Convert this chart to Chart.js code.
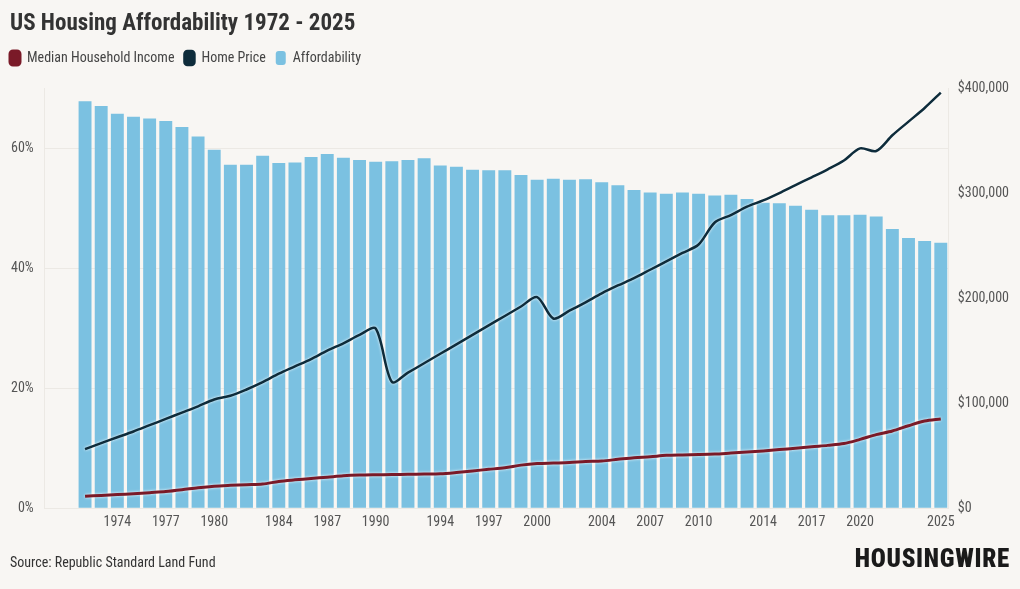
<!DOCTYPE html>
<html>
<head>
<meta charset="utf-8">
<script src="https://cdn.jsdelivr.net/npm/chart.js@4.4.1/dist/chart.umd.min.js"></script>
<style>
  html, body { margin: 0; padding: 0; background: #f8f6f3; }
  #wrap { position: relative; width: 1020px; height: 589px; }
  #title { position: absolute; left: 10px; top: 9px; line-height: 28px; font: bold 23px "Roboto Condensed", "Liberation Sans Narrow", Roboto, sans-serif; color: #333; }
  #source { position: absolute; left: 10px; top: 554px; font: 14px "Roboto Condensed", "Liberation Sans Narrow", Roboto, sans-serif; color: #333; }
  #logo { position: absolute; right: 10px; top: 544px; font: 900 25px "Roboto Condensed", "Liberation Sans Narrow", Roboto, sans-serif; color: #1a1a1a; letter-spacing: 0.7px; }
</style>
</head>
<body>
<div id="wrap">
  <canvas id="chartAfford"></canvas>
  <div id="title">US Housing Affordability 1972 - 2025</div>
  <div id="source">Source: Republic Standard Land Fund</div>
  <div id="logo">HOUSINGWIRE</div>
</div>
<script>
// años del gráfico
const years = [1972,1973,1974,1975,1976,1977,1978,1979,1980,1981,1982,1983,1984,1985,1986,1987,1988,1989,1990,1991,
  1992,1993,1994,1995,1996,1997,1998,1999,2000,2001,2002,2003,2004,2005,2006,2007,2008,2009,2010,2011,
  2012,2013,2014,2015,2016,2017,2018,2019,2020,2021,2022,2023,2024,2025];

// % affordability (barras, eje izquierdo)
const affordability = [67.8,67.0,65.7,65.2,64.9,64.5,63.5,61.9,59.7,57.2,57.2,58.7,57.5,57.6,58.5,59.0,58.4,58.0,57.7,57.8,
  58.0,58.3,57.1,56.9,56.4,56.3,56.3,55.5,54.7,54.9,54.7,54.8,54.3,53.8,53.0,52.6,52.4,52.6,52.4,52.1,
  52.2,51.5,50.9,50.8,50.4,49.7,48.8,48.8,48.9,48.6,46.5,45.0,44.5,44.2];

// ingreso medio del hogar (USD, eje derecho)
const medianIncome = [11400,12200,13000,13800,14800,15800,17500,19500,21000,21800,22400,23000,25500,27000,28300,29500,30800,31500,31800,32000,
  32200,32500,32800,34000,35500,37000,38500,41000,42500,43000,43500,44500,45000,46500,48000,49000,50300,50700,51000,51500,
  52500,53500,54500,55800,57000,58500,59800,61500,65500,70000,73500,78500,83000,85000];

// precio de vivienda (USD, eje derecho)
const homePrice = [56200,62000,67500,73000,79000,85000,91000,97000,103500,107000,113000,120000,128000,135000,142000,150000,157000,165000,171000,120300,
  129000,138000,147000,156000,165000,174000,183000,192000,201000,180600,188000,196000,204500,212000,219000,227000,235000,243000,251000,272000,
  279000,287000,293000,300000,307600,315000,322600,331000,342500,340000,355000,368000,381000,395600];

// etiquetas visibles del eje X
const tickYears = [1974,1977,1980,1984,1987,1990,1994,1997,2000,2004,2007,2010,2014,2017,2020,2025];

const leftTicks = [0, 20, 40, 60];
const rightTicks = [0, 100000, 200000, 300000, 400000];

const FONT = '"Roboto Condensed", "Liberation Sans Narrow", Roboto, sans-serif';

const toPoints = (arr) => years.map((y, i) => ({ x: y, y: arr[i] }));

// halo blanco debajo de las líneas
const lineHalo = {
  id: 'lineHalo',
  beforeDatasetDraw(chart, args) {
    if (args.meta.type !== 'line') return;
    const ctx = chart.ctx;
    ctx.save();
    ctx.shadowColor = 'rgba(255,255,255,0.95)';
    ctx.shadowBlur = 3;
  },
  afterDatasetDraw(chart, args) {
    if (args.meta.type !== 'line') return;
    chart.ctx.restore();
  }
};

// más espacio debajo de la leyenda
const legendGap = {
  id: 'legendGap',
  beforeInit(chart) {
    const fitOrig = chart.legend.fit;
    chart.legend.fit = function () {
      fitOrig.bind(chart.legend)();
      this.height += 13;
    };
  }
};

const ctx = document.getElementById('chartAfford');

new Chart(ctx, {
  data: {
    datasets: [
      {
        type: 'line',
        label: 'Median Household Income',
        data: toPoints(medianIncome),
        yAxisID: 'yRight',
        borderColor: '#7a1a28',
        backgroundColor: '#7a1a28',
        borderWidth: 3,
        pointRadius: 0,
        tension: 0.3
      },
      {
        type: 'line',
        label: 'Home Price',
        data: toPoints(homePrice),
        yAxisID: 'yRight',
        borderColor: '#0e2c3b',
        backgroundColor: '#0e2c3b',
        borderWidth: 2.5,
        pointRadius: 0,
        tension: 0.3
      },
      {
        type: 'bar',
        label: 'Affordability',
        data: toPoints(affordability),
        yAxisID: 'yLeft',
        backgroundColor: '#7bc1e1',
        borderWidth: 0,
        barPercentage: 0.8,
        categoryPercentage: 1
      }
    ]
  },
  options: {
    responsive: true,
    maintainAspectRatio: false,
    animation: false,
    layout: { padding: { left: 0, right: 2, top: 41, bottom: 52 } },
    scales: {
      x: {
        type: 'linear',
        min: 1969.5,
        max: 2025.5,
        offset: false,
        grid: { display: false, drawTicks: false },
        border: { display: false },
        afterBuildTicks: (axis) => { axis.ticks = tickYears.map(v => ({ value: v })); },
        ticks: {
          autoSkip: false,
          maxRotation: 0,
          padding: 6,
          color: '#555',
          font: { family: FONT, size: 14 },
          callback: (v) => String(v)
        }
      },
      yLeft: {
        type: 'linear',
        position: 'left',
        min: 0,
        max: 70,
        afterBuildTicks: (axis) => { axis.ticks = leftTicks.map(v => ({ value: v })); },
        grid: { color: '#ece9e4', drawTicks: false },
        border: { display: true, color: '#ece9e4' },
        ticks: {
          padding: 11,
          color: '#555',
          font: { family: FONT, size: 14 },
          callback: (v) => v + '%'
        }
      },
      yRight: {
        type: 'linear',
        position: 'right',
        min: 0,
        max: 400000,
        afterBuildTicks: (axis) => { axis.ticks = rightTicks.map(v => ({ value: v })); },
        grid: { display: false, drawTicks: false },
        border: { display: true, color: '#ece9e4' },
        ticks: {
          padding: 9,
          color: '#555',
          font: { family: FONT, size: 14 },
          callback: (v) => '$' + v.toLocaleString('en-US')
        }
      }
    },
    plugins: {
      title: { display: false },
      legend: {
        display: true,
        position: 'top',
        align: 'start',
        labels: {
          boxWidth: 10,
          boxHeight: 14,
          useBorderRadius: true,
          borderRadius: 3,
          padding: 10,
          color: '#444',
          font: { family: FONT, size: 14 }
        }
      },
      tooltip: { enabled: false }
    }
  },
  plugins: [lineHalo, legendGap]
});
</script>
</body>
</html>
